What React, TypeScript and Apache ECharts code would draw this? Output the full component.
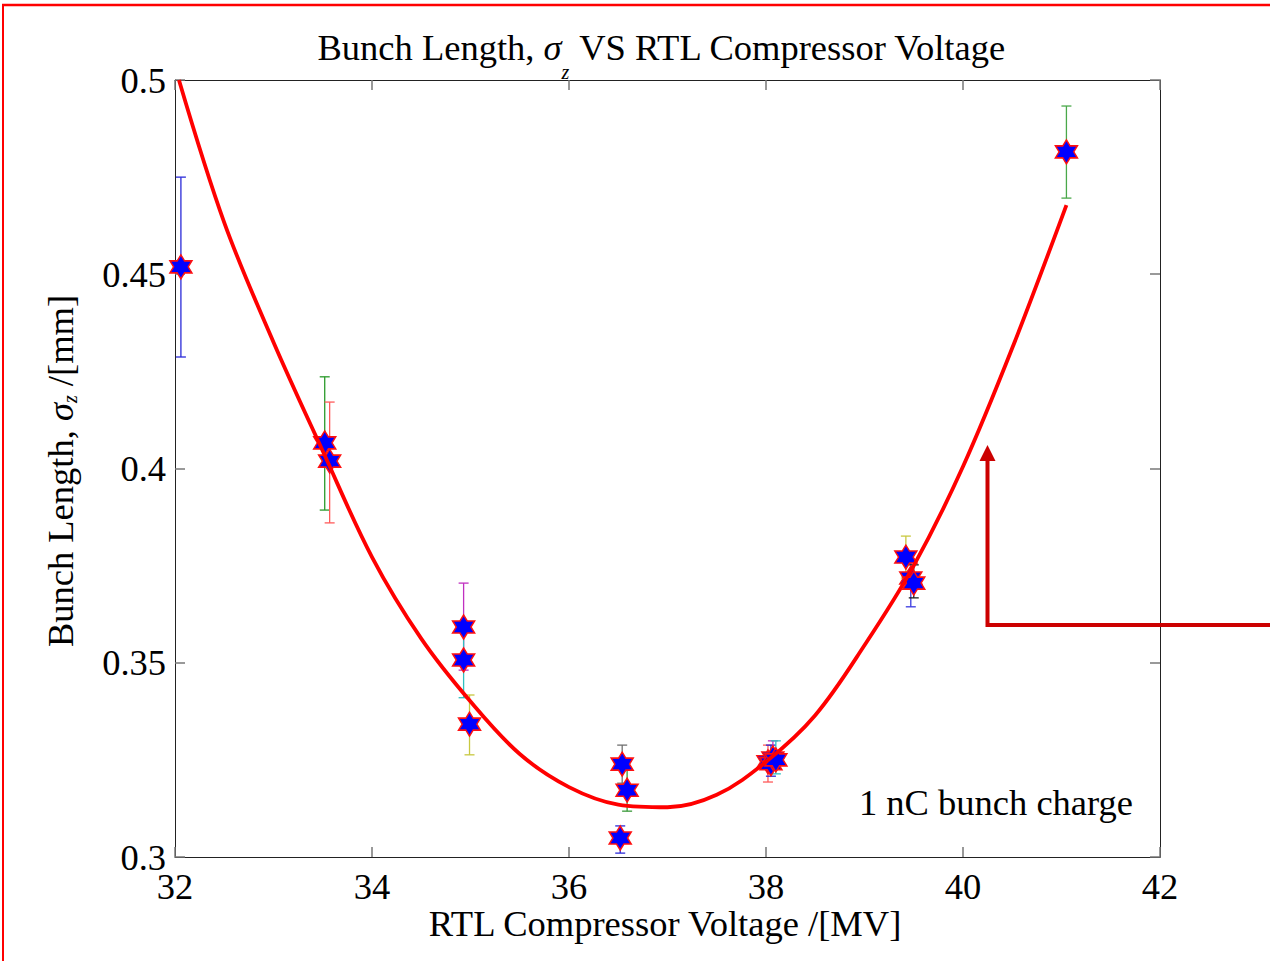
import React, { useEffect, useRef } from "react";
import * as echarts from "echarts";

// Measured points: RTL compressor voltage [MV] and bunch length [mm]
const voltage = [32.06, 33.52, 33.57, 34.93, 34.93, 34.99, 36.54, 36.59, 36.52, 38.02, 38.05, 38.07, 38.1, 39.42, 39.47, 39.5, 41.05];
const sigma = [0.4519, 0.4066, 0.4019, 0.3592, 0.3507, 0.3342, 0.3239, 0.3172, 0.3049, 0.3245, 0.324, 0.3255, 0.325, 0.3772, 0.3718, 0.3705, 0.4815];
const errLow = [0.4287, 0.3893, 0.386, 0.3481, 0.341, 0.3263, 0.319, 0.3118, 0.301, 0.3193, 0.3208, 0.3224, 0.3214, 0.3718, 0.3644, 0.3667, 0.4696];
const errHigh = [0.475, 0.4236, 0.4171, 0.3705, 0.3605, 0.3417, 0.3288, 0.3226, 0.308, 0.3288, 0.3288, 0.3299, 0.3299, 0.3826, 0.3782, 0.3752, 0.4933];
const barColors = ["#2a2ad8", "#2a9a2a", "#ff5a5a", "#c030c0", "#30c0c0", "#c8c840", "#707070", "#3a9a3a", "#2a2ad8", "#ff5a5a", "#2a2ad8", "#c030c0", "#30c0c0", "#c8c840", "#3a3ae0", "#202020", "#4aa84a"];

// Fitted curve
const fitV = [32.04, 32.5, 33, 33.5, 34, 34.5, 35, 35.5, 36, 36.5, 37, 37.5, 38, 38.5, 39, 39.5, 40, 40.5, 41.05];
const fitSigma = [0.5, 0.4633, 0.4325, 0.4045, 0.3772, 0.3562, 0.34, 0.3265, 0.318, 0.3135, 0.3128, 0.316, 0.3245, 0.3365, 0.3545, 0.375, 0.4005, 0.431, 0.4678];

const xTicks = { min: 32, max: 42, interval: 2 };
const yTicks = { min: 0.3, max: 0.5, interval: 0.05 };

const FONT = "'Liberation Serif', 'Times New Roman', serif";
const FS = 36.5;

const starPath =
  "path://M0,-10 L2.887,-5 L8.66,-5 L5.774,0 L8.66,5 L2.887,5 L0,10 L-2.887,5 L-8.66,5 L-5.774,0 L-8.66,-5 L-2.887,-5 Z";

export default function App() {
  const ref = useRef<HTMLDivElement>(null);
  useEffect(() => {
    if (!ref.current) return;
    const chart = echarts.init(ref.current, undefined, { renderer: "svg" });
    const axisCommon = {
      type: "value" as const,
      axisLine: { show: true, lineStyle: { color: "#222", width: 1 } },
      axisTick: { show: true, inside: true, length: 10, lineStyle: { color: "#777", width: 1.5 } },
      splitLine: { show: false },
    };
    const labelStyle = { fontFamily: FONT, fontSize: FS, color: "#000" };
    chart.setOption({
      animation: false,
      backgroundColor: "#fff",
      grid: { left: 175, right: 110, top: 80, bottom: 104, containLabel: false },
      xAxis: [
        { ...axisCommon, ...xTicks, position: "bottom", axisLabel: { ...labelStyle, margin: 14, lineHeight: 30 } },
        { ...axisCommon, ...xTicks, position: "top", axisLabel: { show: false } },
      ],
      yAxis: [
        { ...axisCommon, ...yTicks, position: "left", axisLabel: { ...labelStyle, margin: 9 } },
        { ...axisCommon, ...yTicks, position: "right", axisLabel: { show: false } },
      ],
      series: [
        {
          type: "custom",
          z: 2,
          renderItem: (params: any, api: any) => {
            const x = api.value(0);
            const lo = api.coord([x, api.value(1)]);
            const hi = api.coord([x, api.value(2)]);
            const color = barColors[api.value(3)];
            const hw = 5;
            const st = { stroke: color, lineWidth: 1.3 };
            return {
              type: "group",
              children: [
                { type: "line", shape: { x1: lo[0], y1: lo[1], x2: hi[0], y2: hi[1] }, style: st },
                { type: "line", shape: { x1: lo[0] - hw, y1: lo[1], x2: lo[0] + hw, y2: lo[1] }, style: st },
                { type: "line", shape: { x1: hi[0] - hw, y1: hi[1], x2: hi[0] + hw, y2: hi[1] }, style: st },
              ],
            };
          },
          data: voltage.map((v, i) => [v, errLow[i], errHigh[i], i]),
        },
        {
          type: "scatter",
          z: 3,
          symbol: starPath,
          symbolSize: [22, 24],
          itemStyle: { color: "#0000ff", borderColor: "#ff1010", borderWidth: 1.5, opacity: 1 },
          data: voltage.map((v, i) => [v, sigma[i]]),
        },
        {
          type: "line",
          z: 4,
          smooth: 0.35,
          symbol: "none",
          lineStyle: { color: "#ff0000", width: 3.8 },
          data: fitV.map((v, i) => [v, fitSigma[i]]),
        },
      ],
      graphic: [
        {
          type: "text",
          x: 662,
          y: 47,
          style: {
            text: "{n|Bunch Length, }{s|σ}{sub|z}{n| VS RTL Compressor Voltage}",
            align: "center",
            verticalAlign: "middle",
            fill: "#000",
            rich: {
              n: { fontFamily: FONT, fontSize: FS },
              s: { fontFamily: FONT, fontSize: FS, fontStyle: "italic" },
              sub: { fontFamily: FONT, fontSize: 20, fontStyle: "italic", lineHeight: 20, padding: [50, 0, 0, 0] },
            },
          },
        },
        {
          type: "text",
          x: 665,
          y: 923,
          style: {
            text: "RTL Compressor Voltage /[MV]",
            align: "center",
            verticalAlign: "middle",
            fill: "#000",
            fontFamily: FONT,
            fontSize: FS,
            lineHeight: 30,
          },
        },
        {
          type: "text",
          x: 60,
          y: 471,
          rotation: Math.PI / 2,
          style: {
            text: "{n|Bunch Length, }{s|σ}{sub|z}{n| /[mm]}",
            align: "center",
            verticalAlign: "middle",
            fill: "#000",
            rich: {
              n: { fontFamily: FONT, fontSize: FS },
              s: { fontFamily: FONT, fontSize: FS, fontStyle: "italic" },
              sub: { fontFamily: FONT, fontSize: 20, fontStyle: "italic", lineHeight: 20, padding: [20, 0, 0, 0] },
            },
          },
        },
        {
          type: "text",
          x: 996,
          y: 802,
          style: {
            text: "1 nC bunch charge",
            align: "center",
            verticalAlign: "middle",
            fill: "#000",
            fontFamily: FONT,
            fontSize: FS,
          },
        },
        {
          type: "polyline",
          z: 10,
          shape: { points: [[1270, 625], [987.5, 625], [987.5, 458]] },
          style: { stroke: "#cc0000", lineWidth: 4, fill: null },
        },
        {
          type: "polygon",
          z: 10,
          shape: { points: [[987.5, 445], [979.5, 461], [995.5, 461]] },
          style: { fill: "#cc0000" },
        },
        {
          type: "line",
          z: 10,
          shape: { x1: 2, y1: 5, x2: 1270, y2: 5 },
          style: { stroke: "#ff0000", lineWidth: 2.5 },
        },
        {
          type: "line",
          z: 10,
          shape: { x1: 3, y1: 4, x2: 3, y2: 961 },
          style: { stroke: "#ff0000", lineWidth: 2 },
        },
      ],
    });
    return () => chart.dispose();
  }, []);
  return <div ref={ref} style={{ position: "fixed", left: 0, top: 0, width: 1270, height: 961 }} />;
}
